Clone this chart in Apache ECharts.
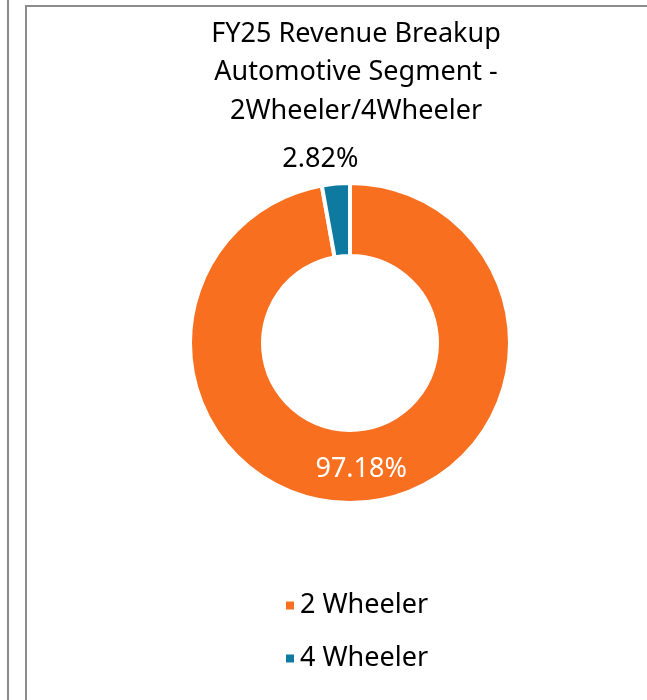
<!DOCTYPE html>
<html>
<head>
<meta charset="utf-8">
<script src="https://cdn.jsdelivr.net/npm/echarts@6/dist/echarts.min.js"></script>
<style>
	html, body { margin: 0; padding: 0; background: #fff; }
	#wrap { position: relative; width: 647px; height: 700px; overflow: hidden; }
	.side { position: absolute; left: 7px; top: -10px; width: 2px; height: 720px; background: #8c8c8c; }
	.box { position: absolute; left: 25px; top: 5px; width: 640px; height: 720px; border-left: 2px solid #8c8c8c; border-top: 2px solid #8c8c8c; }
	#chart { position: absolute; left: 0; top: 0; width: 647px; height: 700px; }
</style>
</head>
<body>
<div id="wrap">
	<div class="side"></div>
	<div class="box"></div>
	<div id="chart"></div>
</div>
<script>
	// 数据
	var titleLines = ['FY25 Revenue Breakup', 'Automotive Segment -', '2Wheeler/4Wheeler']
	var categories = ['2 Wheeler', '4 Wheeler']
	var shares = [97.18, 2.82]
	var colors = ['#F86F1F', '#0E7A9F']

	var chart = echarts.init(document.getElementById('chart'))
	var fontFamily = 'Noto Sans'

	var pieData = categories.map(function (name, i) {
		return {
			name: name,
			value: shares[i],
			itemStyle: { color: colors[i] },
			label: i === 0
				? { position: 'inside', color: '#fff' }
				: { position: 'outside', color: '#000' }
		}
	})

	chart.setOption({
		animation: false,
		title: {
			text: titleLines.join('\n'),
			left: 351,
			textAlign: 'center',
			top: 10,
			textStyle: {
				fontFamily: fontFamily,
				fontWeight: 'normal',
				fontSize: 27,
				lineHeight: 38.5,
				color: '#000'
			}
		},
		legend: {
			orient: 'vertical',
			left: 279,
			top: 587,
			icon: 'rect',
			itemWidth: 10,
			itemHeight: 10,
			itemGap: 26,
			textStyle: {
				fontFamily: fontFamily,
				fontSize: 27,
				color: '#000'
			},
			data: categories
		},
		series: [
			{
				type: 'pie',
				center: [350, 343],
				radius: [87, 160],
				startAngle: 90,
				clockwise: true,
				itemStyle: { borderColor: '#fff', borderWidth: 4 },
				label: {
					fontFamily: fontFamily,
					fontSize: 27,
					formatter: function (p) {
						return p.value.toFixed(2) + '%'
					}
				},
				labelLine: { show: false, length: 6, length2: 0 },
				labelLayout: function (params) {
					if (params.dataIndex === 1) {
						return { align: 'center', dx: -10, dy: -18 }
					}
				},
				data: pieData
			}
		]
	})
</script>
</body>
</html>
